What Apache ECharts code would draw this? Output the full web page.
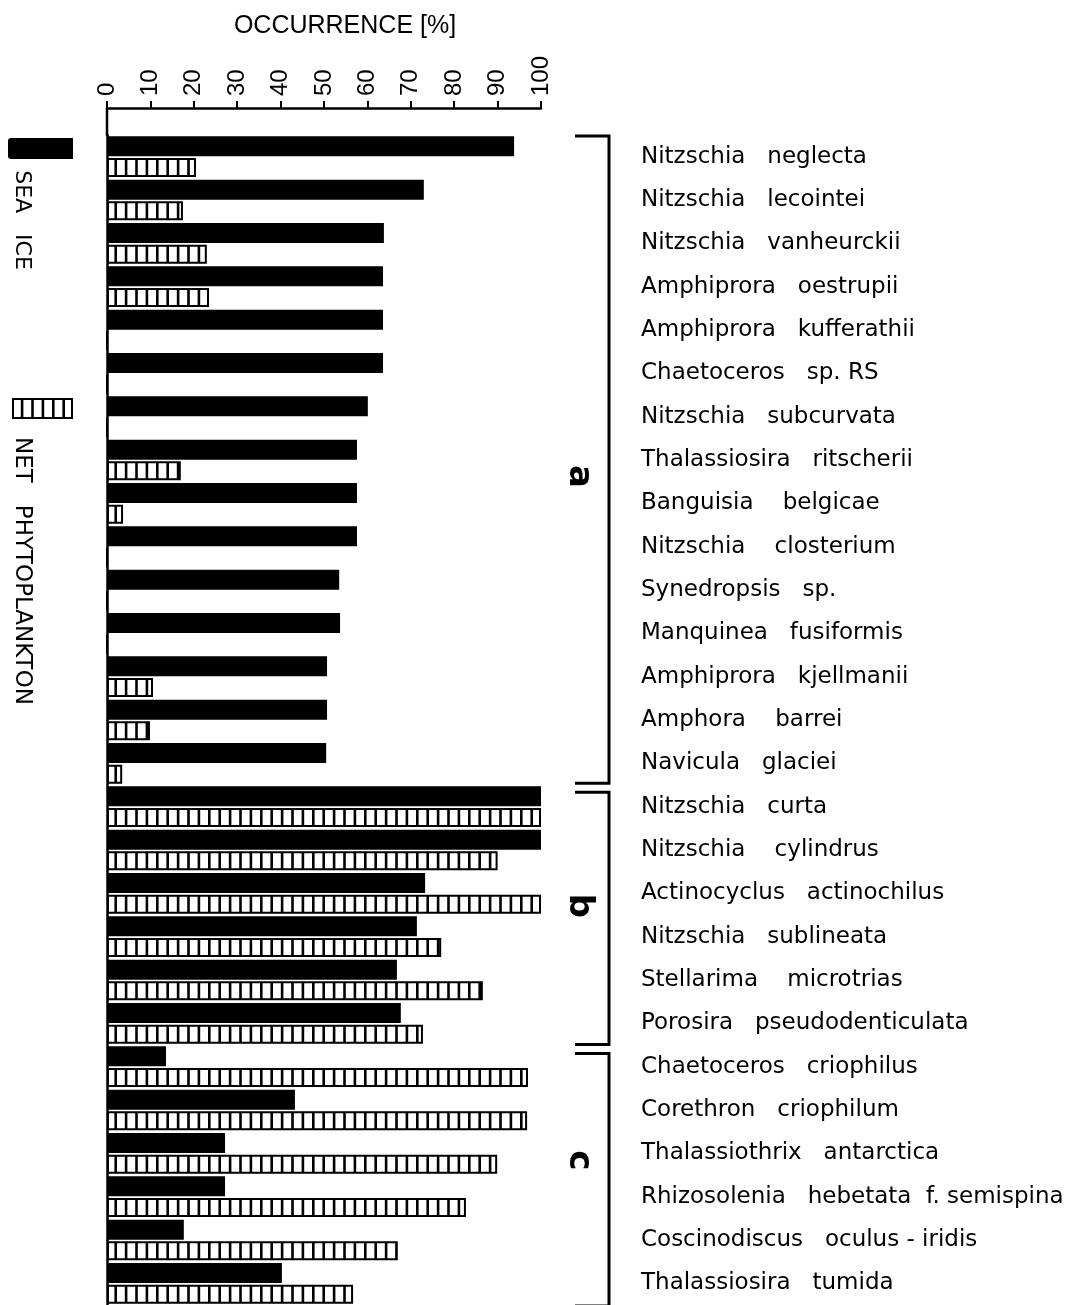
<!DOCTYPE html>
<html>
<head>
<meta charset="utf-8">
<script src="https://cdn.jsdelivr.net/npm/echarts@6/dist/echarts.min.js"></script>
<style>
html,body{margin:0;padding:0;background:#fff;}
#chart{width:1078px;height:1305px;}
</style>
</head>
<body>
<div id="chart"></div>
<script>
var categories = [
  'Nitzschia   neglecta','Nitzschia   lecointei','Nitzschia   vanheurckii','Amphiprora   oestrupii',
  'Amphiprora   kufferathii','Chaetoceros   sp. RS','Nitzschia   subcurvata','Thalassiosira   ritscherii',
  'Banguisia    belgicae','Nitzschia    closterium','Synedropsis   sp.','Manquinea   fusiformis',
  'Amphiprora   kjellmanii','Amphora    barrei','Navicula   glaciei',
  'Nitzschia   curta','Nitzschia    cylindrus','Actinocyclus   actinochilus','Nitzschia   sublineata',
  'Stellarima    microtrias','Porosira   pseudodenticulata',
  'Chaetoceros   criophilus','Corethron   criophilum','Thalassiothrix   antarctica',
  'Rhizosolenia   hebetata  f. semispina','Coscinodiscus   oculus - iridis','Thalassiosira   tumida'
];
var seaIce = [93.8,73.0,63.8,63.6,63.6,63.6,60.1,57.6,57.6,57.6,53.5,53.7,50.7,50.7,50.5,
  100,100,73.3,71.4,66.8,67.7,
  13.6,43.3,27.2,27.2,17.7,40.3];
var netPhyto = [20.5,17.5,23,23.5,0,0,0,17,3.7,0,0,0,10.6,9.9,3.5,
  100,90,100,77,86.6,72.8,
  97,96.8,89.9,82.7,67,56.7];
var xTicks = [0,10,20,30,40,50,60,70,80,90,100];
var groups = [
  {letter:'a', from:0, to:14, shift:15},
  {letter:'b', from:15, to:20, shift:-13},
  {letter:'c', from:21, to:26, shift:-20}
];
var seriesNames = ['SEA ICE','NET PHYTOPLANKTON'];
var axisTitle = 'OCCURRENCE [%]';

// hatched pattern for net phytoplankton
var pat = document.createElement('canvas');
pat.width = 52; pat.height = 20;
(function(){
  var c = pat.getContext('2d');
  c.fillStyle = '#fff'; c.fillRect(0,0,52,20);
  c.fillStyle = '#000';
  for (var i = 0; i < 5; i++) { c.fillRect(i*10.4, 0, 2.6, 20); }
})();

var FONT = 'DejaVu Sans';
var chart = echarts.init(document.getElementById('chart'));
var option = {
  backgroundColor: '#fff',
  animation: false,
  grid: {left: 107, top: 135, width: 434, height: 1176, containLabel: false},
  xAxis: {
    type: 'value', position: 'top', offset: 27, min: 0, max: 100, interval: 10,
    axisLine: {show: true, lineStyle: {color: '#000', width: 2.5}},
    axisTick: {show: true, length: 7, lineStyle: {color: '#000', width: 2}},
    axisLabel: {rotate: -90, margin: 12, fontFamily: 'Liberation Sans', fontSize: 24, color: '#000',
      formatter: function(v){ return xTicks.indexOf(v) >= 0 ? String(v) : ''; }},
    splitLine: {show: false}
  },
  yAxis: [{
    type: 'category', data: categories, inverse: true,
    axisLine: {show: true, lineStyle: {color: '#000', width: 2.5}},
    axisTick: {show: false}, axisLabel: {show: false}
  }, {
    type: 'category', data: categories, inverse: true, position: 'right',
    axisLine: {show: false}, axisTick: {show: false},
    axisLabel: {show: true, margin: 100, align: 'left', fontFamily: FONT, fontSize: 23, color: '#000', padding: [3,0,0,0]}
  }],
  series: [{
    name: seriesNames[0], type: 'bar', data: seaIce, barWidth: 20, barGap: '8%',
    itemStyle: {color: '#000'}
  }, {
    name: seriesNames[1], type: 'bar', data: netPhyto, barWidth: 19,
    itemStyle: {color: {image: pat, repeat: 'repeat'}, borderColor: '#000', borderWidth: 2}
  }]
};
chart.setOption(option);

function drawExtras() {
  var band = 1176 / categories.length;
  var y0 = chart.convertToPixel({yAxisIndex: 0}, categories[0]) - band/2;
  var xAxisY = 135 - 27;
  var axisX = chart.convertToPixel({xAxisIndex: 0}, 0);
  var g = [];
  g.push({type:'line', shape:{x1:axisX, y1:xAxisY, x2:axisX, y2:136}, style:{stroke:'#000', lineWidth:2.5}});
  g.push({type:'text', x:345, y:26,
    style:{text:axisTitle, fontFamily:'Liberation Sans', fontSize:25, fill:'#000', align:'center', verticalAlign:'middle'}});
  var bx = 609, bl = 575;
  groups.forEach(function(gr, i){
    var top = y0 + gr.from*band + (i === 0 ? 1 : 4);
    var bot = y0 + (gr.to+1)*band - 5;
    g.push({type:'polyline', shape:{points:[[bl,top],[bx,top],[bx,bot],[bl,bot]]},
      style:{stroke:'#000', lineWidth:3, fill:null}});
    var mid = (y0 + gr.from*band + y0 + (gr.to+1)*band)/2 + gr.shift;
    g.push({type:'text', x:579, y:mid, rotation:-Math.PI/2,
      style:{text:gr.letter, fontFamily:FONT, fontSize:34, fontWeight:'bold', fill:'#000', align:'center', verticalAlign:'middle'}});
  });
  // legend
  g.push({type:'rect', shape:{x:8, y:138, width:65, height:21, r:[3,0,0,3]}, style:{fill:'#000'}});
  g.push({type:'text', x:22, y:220, rotation:-Math.PI/2,
    style:{text:'SEA   ICE', fontFamily:FONT, fontSize:22, fill:'#000', align:'center', verticalAlign:'middle'}});
  g.push({type:'rect', shape:{x:13, y:399, width:59, height:19}, style:{fill:{image: pat, repeat:'repeat'}, stroke:'#000', lineWidth:2}});
  g.push({type:'text', x:22, y:571, rotation:-Math.PI/2,
    style:{text:'NET   PHYTOPLANKTON', fontFamily:FONT, fontSize:23, fill:'#000', align:'center', verticalAlign:'middle'}});
  chart.setOption({graphic: g});
}
drawExtras();
</script>
</body>
</html>
